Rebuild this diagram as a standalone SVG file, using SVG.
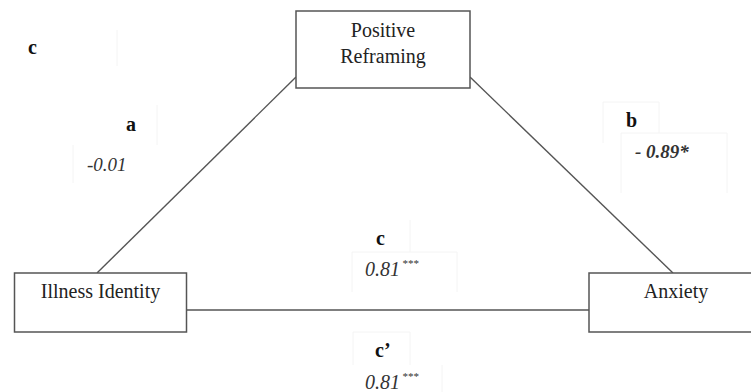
<svg xmlns="http://www.w3.org/2000/svg" width="751" height="392" viewBox="0 0 751 392">
<style>
.box{fill:#fff;stroke:#555;stroke-width:1.5}
.conn{stroke:#555;stroke-width:1.4;fill:none}
.faint{stroke:#f4f4f4;stroke-width:1;fill:none}
text{font-family:'Liberation Serif','Tinos','Times New Roman','DejaVu Serif',serif}
.t{font-size:20px;fill:#222}
.lab{font-size:20px;font-weight:bold;fill:#111}
.num{font-size:19px;font-style:italic;fill:#333}
.n2{font-size:20px}
.sup{font-size:11px}
</style>
<rect width="751" height="392" fill="#fff"/>
<g id="frames" class="faint">
<path d="M117 30V66"/>
<path d="M157 105V145"/>
<path d="M73 145V183"/>
<path d="M603 143V102H659V133"/>
<path d="M621 193V133H727V193"/>
<path d="M410 220V252"/>
<path d="M352 292V252H457V292"/>
<path d="M353 365V332H410V365"/>
<path d="M442 365V392"/>
</g>
<g id="connectors">
<line class="conn" x1="296" y1="77" x2="97" y2="273"/>
<line class="conn" x1="470" y1="77" x2="673" y2="273"/>
<line class="conn" x1="187" y1="310" x2="589" y2="310"/>
</g>
<g id="positive-reframing">
<rect class="box" x="296" y="11" width="174" height="77"/>
<text class="t" x="383" y="37" text-anchor="middle">Positive</text>
<text class="t" x="383" y="63" text-anchor="middle">Reframing</text>
</g>
<g id="illness-identity">
<rect class="box" x="14.5" y="273" width="172" height="59"/>
<text class="t" x="100.5" y="298" text-anchor="middle">Illness Identity</text>
</g>
<g id="anxiety">
<rect class="box" x="589" y="273" width="180" height="59"/>
<text class="t" x="676" y="298" text-anchor="middle">Anxiety</text>
</g>
<g id="labels">
<text class="lab" x="28" y="54">c</text>
<text class="lab" x="126" y="131">a</text>
<text class="num" x="87" y="171">-0.01</text>
<text class="lab" x="626" y="127">b</text>
<text class="num" x="635" y="158" font-weight="bold">- 0.89*</text>
<text class="lab" x="376" y="245">c</text>
<text class="num n2" x="365" y="276">0.81<tspan class="sup" dy="-9" dx="2">***</tspan></text>
<text class="lab" x="375" y="357">c’</text>
<text class="num n2" x="365" y="389">0.81<tspan class="sup" dy="-9" dx="2">***</tspan></text>
</g>
</svg>
